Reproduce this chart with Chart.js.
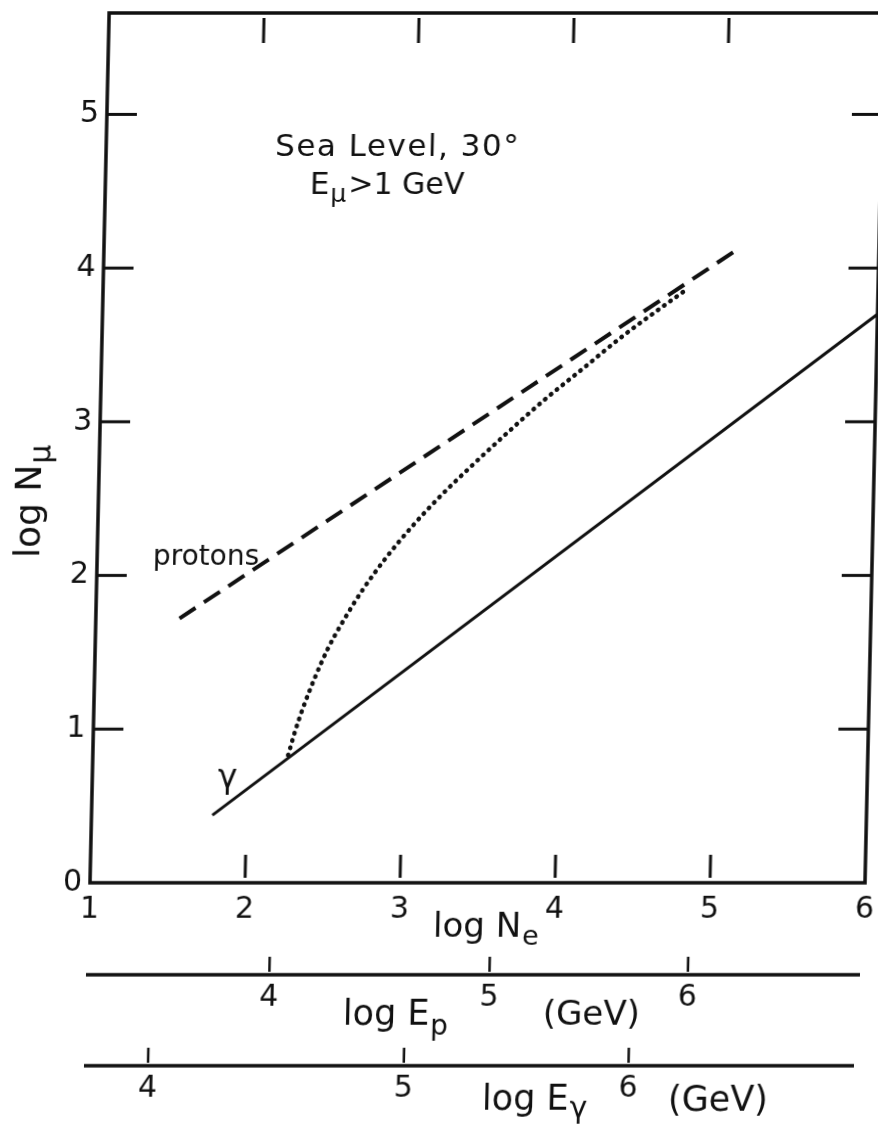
<!DOCTYPE html>
<html>
<head>
<meta charset="utf-8">
<title>log N_mu vs log N_e</title>
<script src="https://cdn.jsdelivr.net/npm/chart.js@4.4.1/dist/chart.umd.min.js"></script>
<style>
  html, body { margin: 0; padding: 0; background: #fff; overflow: hidden; }
  /* the scanned figure leans a little to the right */
  #myChart { display: block; transform: skewX(-1.26deg); transform-origin: 0 883px; }
</style>
</head>
<body>
<canvas id="myChart" width="878" height="1132"></canvas>
<script>
// axis ticks
const neTicks = [1, 2, 3, 4, 5, 6];
const nmuTicks = [0, 1, 2, 3, 4, 5];
const innerNeTicks = [2, 3, 4, 5];
const innerNmuTicks = [1, 2, 3, 4, 5];

// curves (log Ne, log Nmu)
const neProtons = [1.54, 5.10];
const nmuProtons = [1.72, 4.13];

const neGamma = [1.78, 6.0];
const nmuGamma = [0.44, 3.70];

const neMixed = [2.26, 2.30, 2.35, 2.42, 2.50, 2.60, 2.72, 2.86, 3.02, 3.20, 3.40, 3.62, 3.86, 4.10, 4.35, 4.60, 4.75];
const nmuMixed = [0.83, 0.98, 1.14, 1.33, 1.52, 1.71, 1.91, 2.11, 2.31, 2.51, 2.71, 2.92, 3.14, 3.34, 3.55, 3.74, 3.85];

// energy scales under the Ne axis, given at the log Ne they line up with
const epTickNe = [2.17, 3.59, 4.87];
const epTickLabels = ['4', '5', '6'];
const egTickNe = [1.40, 3.05, 4.50];
const egTickLabels = ['4', '5', '6'];

const ink = '#111';
const fam = '"DejaVu Sans", sans-serif';

function pts(xs, ys) {
    return xs.map((x, i) => ({x: x, y: ys[i]}));
}

// text with a subscript after it, returns where the subscript ends
function withSub(c, main, low, x, y, size, lowSize, drop) {
    c.font = size + 'px ' + fam;
    c.textAlign = 'left';
    c.fillText(main, x, y);
    const w = c.measureText(main).width;
    c.font = lowSize + 'px ' + fam;
    c.fillText(low, x + w + 1, y + drop);
    return x + w + 1 + c.measureText(low).width;
}

function line(c, x1, y1, x2, y2) {
    c.beginPath();
    c.moveTo(x1, y1);
    c.lineTo(x2, y2);
    c.stroke();
}

const figure = {
    id: 'figure',
    afterDraw(chart) {
        const c = chart.ctx;
        const a = chart.chartArea;
        const xs = chart.scales.x;
        const ys = chart.scales.y;
        c.save();
        c.strokeStyle = ink;
        c.fillStyle = ink;
        c.lineCap = 'butt';

        // frame
        c.lineWidth = 3.5;
        c.strokeRect(a.left, a.top, a.right - a.left, a.bottom - a.top);

        // inward ticks
        c.lineWidth = 3;
        innerNeTicks.forEach(v => {
            const x = xs.getPixelForValue(v);
            line(c, x, a.bottom - 5, x, a.bottom - 28);
            line(c, x, a.top + 5, x, a.top + 30);
        });
        innerNmuTicks.forEach(v => {
            const y = ys.getPixelForValue(v);
            line(c, a.left, y, a.left + 30, y);
            line(c, a.right, y, a.right - 30, y);
        });

        // energy scales
        const scalesBelow = [
            {y: a.bottom + 92, ticks: epTickNe, labels: epTickLabels, right: a.right - 3},
            {y: a.bottom + 183, ticks: egTickNe, labels: egTickLabels, right: a.right - 7}
        ];
        scalesBelow.forEach(s => {
            c.lineWidth = 3.5;
            line(c, a.left - 2, s.y, s.right, s.y);
            c.lineWidth = 2.5;
            c.font = '30px ' + fam;
            c.textAlign = 'center';
            c.textBaseline = 'middle';
            s.ticks.forEach((v, i) => {
                const x = xs.getPixelForValue(v);
                line(c, x, s.y - 18, x, s.y - 3);
                c.fillText(s.labels[i], x, s.y + 23);
            });
        });

        c.textBaseline = 'alphabetic';
        // axis titles
        withSub(c, 'log N', 'e', xs.getPixelForValue(3.22), a.bottom + 54, 34, 27, 8);
        withSub(c, 'log E', 'p', xs.getPixelForValue(2.65), a.bottom + 142, 35, 28, 10);
        c.font = '34px ' + fam;
        c.fillText('(GeV)', xs.getPixelForValue(3.94), a.bottom + 142);
        withSub(c, 'log E', 'γ', xs.getPixelForValue(3.56), a.bottom + 227, 35, 30, 8);
        c.font = '35px ' + fam;
        c.fillText('(GeV)', xs.getPixelForValue(4.76), a.bottom + 228);

        c.save();
        c.translate(32, 558);
        c.rotate(-Math.PI / 2);
        withSub(c, 'log N', 'μ', 0, 0, 36, 30, 9);
        c.restore();

        // notes inside the plot
        c.font = '31px ' + fam;
        c.letterSpacing = '1.5px';
        c.fillText('Sea Level, 30°', xs.getPixelForValue(2.09), ys.getPixelForValue(4.73));
        c.letterSpacing = '0px';
        const end = withSub(c, 'E', 'μ', xs.getPixelForValue(2.32), ys.getPixelForValue(4.48), 31, 25, 8);
        c.font = '30px ' + fam;
        c.fillText('>1 GeV', end + 2, ys.getPixelForValue(4.48));
        c.font = '28px ' + fam;
        c.fillText('protons', xs.getPixelForValue(1.36), ys.getPixelForValue(2.07));
        c.font = '33px ' + fam;
        c.fillText('γ', xs.getPixelForValue(1.81), ys.getPixelForValue(0.62));
        c.restore();
    }
};

Chart.defaults.font.family = fam;
Chart.defaults.color = ink;

const ctx = document.getElementById('myChart');

new Chart(ctx, {
    type: 'scatter',
    data: {
        datasets: [{
            label: 'protons',
            data: pts(neProtons, nmuProtons),
            showLine: true,
            borderColor: ink,
            borderWidth: 4,
            borderDash: [19, 10],
            pointRadius: 0
        }, {
            label: 'gamma',
            data: pts(neGamma, nmuGamma),
            showLine: true,
            borderColor: ink,
            borderWidth: 3,
            pointRadius: 0
        }, {
            label: 'mixed',
            data: pts(neMixed, nmuMixed),
            showLine: true,
            borderColor: ink,
            borderWidth: 4.5,
            borderDash: [0.5, 7],
            borderCapStyle: 'round',
            cubicInterpolationMode: 'monotone',
            pointRadius: 0
        }]
    },
    options: {
        responsive: false,
        animation: false,
        devicePixelRatio: 1,
        layout: {padding: {left: 0, right: 13, top: 13, bottom: 189}},
        plugins: {legend: {display: false}, tooltip: {enabled: false}},
        scales: {
            x: {
                type: 'linear',
                min: 1,
                max: 6,
                grid: {display: false, drawTicks: false},
                border: {display: false},
                ticks: {font: {size: 30}, padding: 9},
                afterBuildTicks: s => { s.ticks = neTicks.map(v => ({value: v})); },
                afterFit: s => {
                    s.height = 60;
                    s.paddingLeft = 0; s.paddingRight = 0;
                }
            },
            y: {
                type: 'linear',
                min: 0,
                max: 5.66,
                grid: {display: false, drawTicks: false},
                border: {display: false},
                ticks: {font: {size: 30}, padding: 8},
                afterBuildTicks: s => { s.ticks = nmuTicks.map(v => ({value: v})); },
                afterFit: s => {
                    s.width = 90;
                    s.paddingTop = 0; s.paddingBottom = 0;
                }
            }
        }
    },
    plugins: [figure]
});
</script>
</body>
</html>
